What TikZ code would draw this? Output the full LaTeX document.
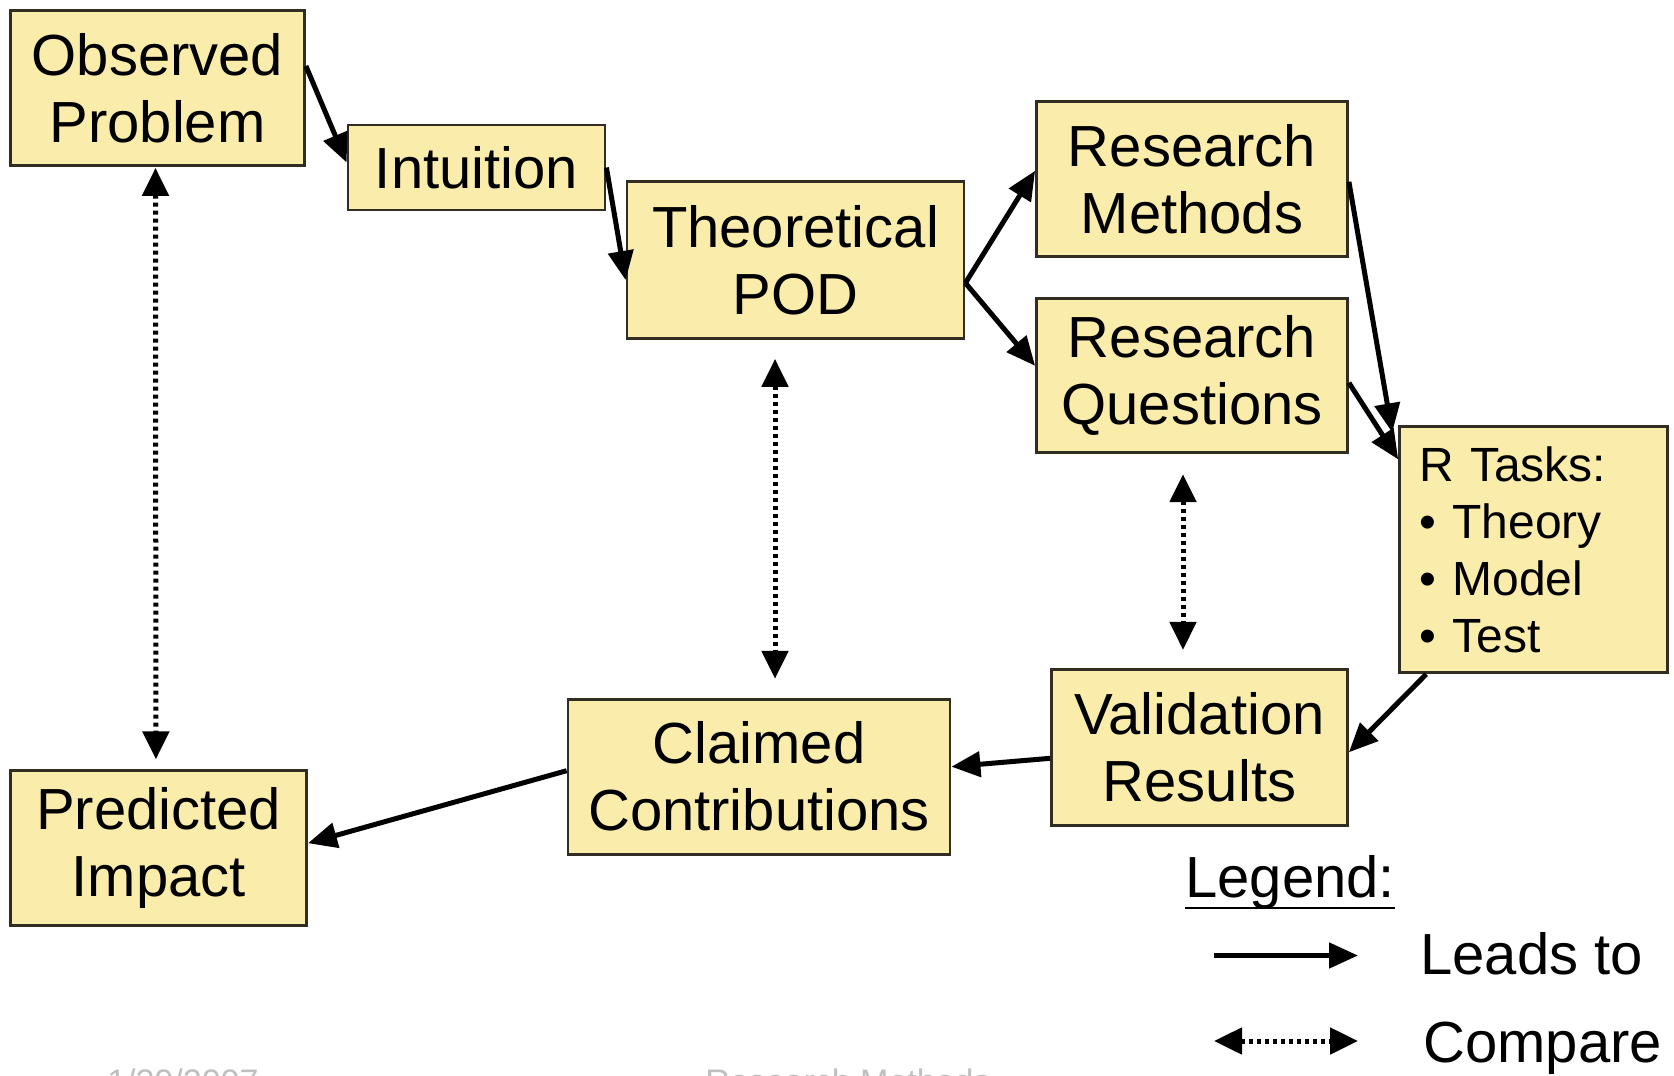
\documentclass[tikz,border=0pt]{standalone}
\usepackage{fontspec}
\setmainfont{Liberation Sans}
\usetikzlibrary{arrows.meta,positioning}
\definecolor{boxfill}{RGB}{250,236,170}
\definecolor{boxline}{RGB}{50,45,35}

\begin{document}
\begin{tikzpicture}[x=1pt,y=-1pt,semithick]
	  \tikzstyle{block}=[rectangle,fill=boxfill,draw=boxline,line width=2.8pt,inner sep=0pt,align=center,text=black,font=\fontsize{58}{67}\selectfont]
	  \tikzstyle{lead}=[-{Triangle[length=29pt,width=25pt]},line width=5pt,black]
	  \tikzstyle{compare}=[{Triangle[length=28pt,width=26pt]}-{Triangle[length=28pt,width=26pt]},line width=5pt,black,dash pattern=on 4pt off 4pt]
	  \tikzstyle{legendtext}=[anchor=base west,inner sep=0pt,font=\fontsize{58}{67}\selectfont]

	  \useasboundingbox (0,0) rectangle (1674,1076);
	  \fill[white] (0,0) rectangle (1674,1076);
	  \clip (0,0) rectangle (1674,1076);

	  \node[block,minimum width=294pt,minimum height=155pt] (obs) at (157.5,88) {Observed\\Problem};
	  \node[block,minimum width=257pt,minimum height=85pt] (intu) at (476.5,167.5) {Intuition};
	  \node[block,minimum width=337pt,minimum height=157pt] (theo) at (795.5,260) {Theoretical\\POD};
	  \node[block,minimum width=311pt,minimum height=155pt] (meth) at (1192,178.8) {Research\\Methods};
	  \node[block,minimum width=311pt,minimum height=154pt] (ques) at (1192,375.8) {Research\\Questions};
	  \node[block,text width=228pt,align=left,inner xsep=20pt,minimum height=246pt,font=\fontsize{48}{57}\selectfont] (tasks) at (1533.6,549.8)
	  {R Tasks:\\\textbullet{} Theory\\\textbullet{} Model\\\textbullet{} Test};
	  \node[block,minimum width=296pt,minimum height=156pt] (valid) at (1199.5,747.3) {Validation\\Results};
	  \node[block,minimum width=382pt,minimum height=155pt] (claim) at (759,776.7) {Claimed\\Contributions};
	  \node[block,minimum width=296pt,minimum height=155pt] (pred) at (158.6,848.2) {Predicted\\Impact};

	  \path
	  ([yshift=22pt]obs.east) edge[lead] ([yshift=5pt]intu.west)
	  (intu.east) edge[lead] ([yshift=-20pt]theo.west)
	  ([yshift=-23pt]theo.east) edge[lead] ([yshift=8pt]meth.west)
	  ([yshift=-23pt]theo.east) edge[lead] ([yshift=10pt]ques.west)
	  ([yshift=-3pt]meth.east) edge[lead] ([xshift=-6pt,yshift=-7pt]tasks.north west)
	  ([yshift=-7pt]ques.east) edge[lead] ([yshift=-34pt]tasks.north west)
	  ([xshift=28pt]tasks.south west) edge[lead] ([yshift=-5pt]valid.east)
	  ([yshift=-11pt]valid.west) edge[lead] ([yshift=10pt]claim.east)
	  ([yshift=6pt]claim.west) edge[lead] ([yshift=5pt]pred.east)

	  ([xshift=-2pt]obs.south) edge[compare,shorten <=1pt,shorten >=10pt] ([xshift=-2.7pt]pred.north)
	  ([xshift=-20.5pt]theo.south) edge[compare,shorten <=19pt,shorten >=19pt] ([xshift=16pt]claim.north)
	  ([xshift=-9pt]ques.south) edge[compare,shorten <=20pt,shorten >=18pt] ([xshift=-16.5pt]valid.north)
	  ;

	  % legend
	  \node[legendtext] (legend) at (1185,897) {Legend:};
	  \draw[line width=2.8pt] ([yshift=-11pt]legend.base west) -- ([yshift=-11pt]legend.base east);
	  \node[legendtext] (leads) at (1420,974) {Leads to};
	  \node[legendtext] (cmp) at (1423,1062) {Compare};
	  \coordinate (la) at (1214,955.5);
	  \coordinate (lb) at (1358,955.5);
	  \coordinate (ca) at (1214,1041);
	  \coordinate (cb) at (1358,1041);
	  \path (la) edge[lead] (lb)
	  (ca) edge[compare] (cb);

	  % footer, cut off by the page
	  \node[anchor=base west,inner sep=0pt,text=gray!50,font=\fontsize{34}{40}\selectfont] (date) at (107,1093) {1/29/2007};
	  \node[anchor=base west,inner sep=0pt,text=gray!50,font=\fontsize{34}{40}\selectfont] (title) at (705,1093) {Research Methods};
	\end{tikzpicture}
\end{document}
